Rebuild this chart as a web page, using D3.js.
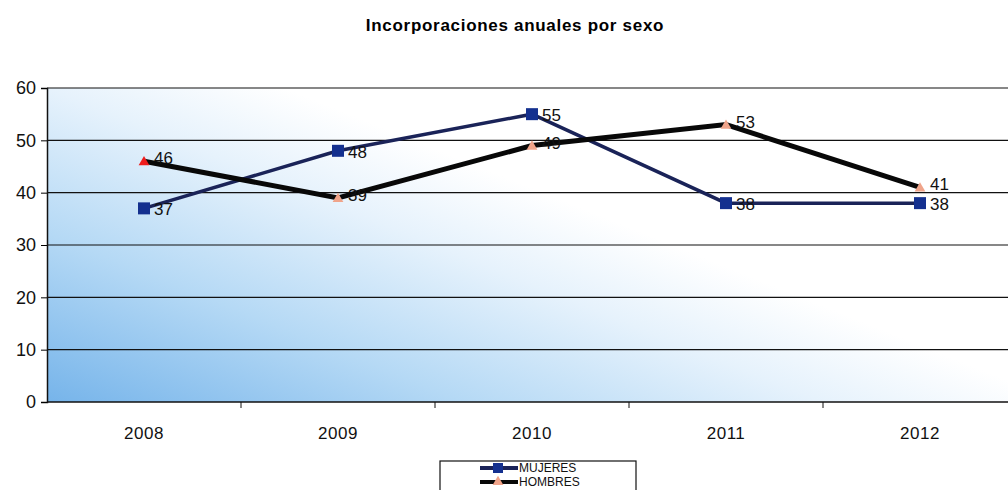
<!DOCTYPE html>
<html>
<head>
<meta charset="utf-8">
<script src="https://cdn.jsdelivr.net/npm/d3@7"></script>
<style>
  body { margin: 0; background: #fff; }
  text { font-family: "Liberation Sans", Arial, sans-serif; }
</style>
</head>
<body>
<svg class="chart" width="1008" height="490"></svg>
<script>
var years = ["2008", "2009", "2010", "2011", "2012"];
var mujeres = [37, 48, 55, 38, 38];
var hombres = [46, 39, 49, 53, 41];
var yTicks = [0, 10, 20, 30, 40, 50, 60];

(function() {
  var margin = {top: 88, right: -9, bottom: 88, left: 47};

  var svg = d3.select(".chart"),
      width = +svg.attr("width") - margin.left - margin.right,
      height = +svg.attr("height") - margin.top - margin.bottom;

  var defs = svg.append("defs");
  var grad = defs.append("linearGradient")
    .attr("id", "bg")
    .attr("x1", "0%").attr("y1", "100%")
    .attr("x2", "75%").attr("y2", "40%");
  grad.append("stop").attr("offset", "0%").attr("stop-color", "#76b4ea");
  grad.append("stop").attr("offset", "35%").attr("stop-color", "#b5d9f5");
  grad.append("stop").attr("offset", "65%").attr("stop-color", "#e6f2fc");
  grad.append("stop").attr("offset", "85%").attr("stop-color", "#ffffff");

  svg.append("text")
    .attr("x", 515)
    .attr("y", 31)
    .attr("text-anchor", "middle")
    .style("font-size", "17px")
    .style("letter-spacing", "0.7px")
    .style("font-weight", "bold")
    .text("Incorporaciones anuales  por sexo");

  var chart = svg.append("g")
    .attr("transform", "translate(" + margin.left + "," + margin.top + ")");

  var xScale = d3.scaleBand().domain(years).range([0, width]);
  var yScale = d3.scaleLinear().domain([0, 60]).range([height, 0]);
  var xc = function(d, i) { return xScale(years[i]) + xScale.bandwidth() / 2; };

  chart.append("rect")
    .attr("width", width)
    .attr("height", height)
    .attr("fill", "url(#bg)");

  // gridlines
  chart.selectAll(".grid")
    .data(yTicks.slice(1))
    .enter().append("line")
    .attr("x1", 0).attr("x2", width)
    .attr("y1", function(d) { return yScale(d); })
    .attr("y2", function(d) { return yScale(d); })
    .attr("stroke", "#111")
    .attr("stroke-width", 1.2);

  // y axis
  var yAxis = d3.axisLeft(yScale).tickValues(yTicks).tickSize(6).tickPadding(5);
  var yg = chart.append("g").call(yAxis);
  yg.select(".domain").attr("stroke", "#111").attr("stroke-width", 1.5);
  yg.selectAll("text").style("font-size", "18px").attr("fill", "#111");

  // x axis
  var xg = chart.append("g").attr("transform", "translate(0," + height + ")");
  xg.append("line").attr("x1", 0).attr("x2", width).attr("stroke", "#111").attr("stroke-width", 1.5);
  xg.selectAll(".tk")
    .data(years.slice(1))
    .enter().append("line")
    .attr("x1", function(d) { return xScale(d); })
    .attr("x2", function(d) { return xScale(d); })
    .attr("y1", 0).attr("y2", 6)
    .attr("stroke", "#111");
  xg.selectAll(".lbl")
    .data(years)
    .enter().append("text")
    .attr("x", function(d) { return xScale(d) + xScale.bandwidth() / 2; })
    .attr("y", 37)
    .attr("text-anchor", "middle")
    .style("font-size", "17px")
    .style("letter-spacing", "0.5px")
    .attr("fill", "#111")
    .text(function(d) { return d; });

  var line = d3.line()
    .x(xc)
    .y(function(d) { return yScale(d); });

  chart.append("path")
    .datum(mujeres)
    .attr("d", line)
    .attr("fill", "none")
    .attr("stroke", "#1a2358")
    .attr("stroke-width", 3.5);

  chart.append("path")
    .datum(hombres)
    .attr("d", line)
    .attr("fill", "none")
    .attr("stroke", "#080808")
    .attr("stroke-width", 5);

  // markers
  chart.selectAll(".sq")
    .data(mujeres)
    .enter().append("rect")
    .attr("x", function(d, i) { return xc(d, i) - 6; })
    .attr("y", function(d) { return yScale(d) - 6; })
    .attr("width", 12).attr("height", 12)
    .attr("fill", "#14308f");

  var tri = d3.symbol().type(d3.symbolTriangle).size(50);
  chart.selectAll(".tri")
    .data(hombres)
    .enter().append("path")
    .attr("d", tri)
    .attr("transform", function(d, i) { return "translate(" + xc(d, i) + "," + (yScale(d) + 1) + ")"; })
    .attr("fill", function(d, i) { return i === 0 ? "#ee1c1c" : "#f0a48a"; });

  // value labels
  chart.selectAll(".lm")
    .data(mujeres)
    .enter().append("text")
    .attr("x", function(d, i) { return xc(d, i) + 10; })
    .attr("y", function(d) { return yScale(d) + 7; })
    .style("font-size", "17px")
    .attr("fill", "#111")
    .text(function(d) { return d; });

  chart.selectAll(".lh")
    .data(hombres)
    .enter().append("text")
    .attr("x", function(d, i) { return xc(d, i) + 10; })
    .attr("y", function(d) { return yScale(d) + 3; })
    .style("font-size", "17px")
    .attr("fill", "#111")
    .text(function(d) { return d; });

  // legend
  var lg = svg.append("g").attr("transform", "translate(440,461)");
  lg.append("rect")
    .attr("width", 196).attr("height", 40)
    .attr("fill", "#fff")
    .attr("stroke", "#111").attr("stroke-width", 1.2);
  var items = [
    {name: "MUJERES", color: "#1a2358"},
    {name: "HOMBRES", color: "#080808"}
  ];
  var li = lg.selectAll(".li")
    .data(items)
    .enter().append("g")
    .attr("transform", function(d, i) { return "translate(0," + (7 + i * 14) + ")"; });
  li.append("line")
    .attr("x1", 40).attr("x2", 78)
    .attr("stroke", function(d) { return d.color; })
    .attr("stroke-width", 4);
  li.filter(function(d, i) { return i === 0; })
    .append("rect")
    .attr("x", 53).attr("y", -5).attr("width", 10).attr("height", 10)
    .attr("fill", "#14308f");
  li.filter(function(d, i) { return i === 1; })
    .append("path")
    .attr("d", tri)
    .attr("transform", "translate(58,0)")
    .attr("fill", "#f0a48a");
  li.append("text")
    .attr("x", 79).attr("y", 4)
    .style("font-size", "12px")
    .attr("fill", "#111")
    .text(function(d) { return d.name; });
})();
</script>
</body>
</html>
